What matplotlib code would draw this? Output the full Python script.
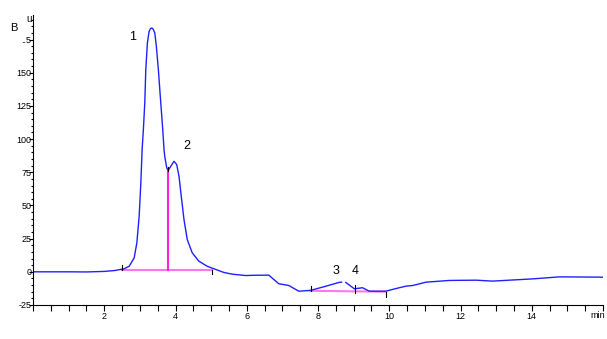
import numpy as np
import matplotlib
matplotlib.use('Agg')
from matplotlib import pyplot as plt
from matplotlib.ticker import MultipleLocator

# chromatogram trace (min, mAU)
trace_t = [0.0, 1.0, 1.5, 2.0, 2.3, 2.56, 2.70, 2.84, 2.915, 2.98, 3.027, 3.063,
           3.10, 3.138, 3.166, 3.211, 3.259, 3.30, 3.334, 3.37, 3.418, 3.463,
           3.519, 3.586, 3.642, 3.678, 3.698, 3.754, 3.80, 3.866, 3.958, 4.034,
           4.098, 4.162, 4.238, 4.33, 4.47, 4.657, 4.89, 5.077, 5.36, 5.6,
           5.97, 6.2, 6.62, 6.76, 6.9, 7.18, 7.46, 7.79, 8.2, 8.59, 8.66]
trace_y = [0.0, 0.0, -0.1, 0.3, 1.0, 2.3, 4.2, 10.5, 21.8, 41.9, 67.0, 92.1,
           108.0, 127.5, 152.3, 172.4, 181.2, 183.3, 183.7, 183.0, 180.0, 169.9,
           152.3, 127.5, 107.2, 92.1, 87.0, 78.3, 76.5, 79.5, 83.3, 80.8,
           72.0, 56.9, 39.4, 24.3, 14.3, 8.0, 4.2, 2.3, -0.5, -1.8,
           -2.8, -2.6, -2.5, -5.8, -9, -10.3, -14.6, -14.0, -11.0, -8.0, -7.8]
trace2_t = [8.78, 9.02, 9.25, 9.44, 9.9, 10.28, 10.47, 10.66, 11.03, 11.69,
            12.44, 12.9, 14.04, 14.78, 15.9, 16.0]
trace2_y = [-8.0, -12.8, -12.0, -14.6, -14.6, -12.0, -10.8, -10.3, -7.8, -6.5,
            -6.3, -7.0, -5.3, -3.8, -4.0, -4.1]

# integration baselines and peak marks
base1_t = [2.5, 5.03]
base1_y = [1.0, 1.0]
drop_t = 3.8
drop_y = 76.5
base2_t = [7.79, 9.9]
base2_y = [-14.3, -15.0]
marks_t = [2.5, 3.8, 5.03, 7.79, 9.05, 9.9]
marks_lo = [1.5, 76.0, -2.0, -14.3, -16.0, -19.0]
marks_hi = [5.5, 79.0, 1.5, -10.5, -10.0, -15.0]

peak_labels = ['1', '2', '3', '4']
peak_lab_t = [2.79, 4.33, 8.5, 9.03]
peak_lab_y = [177, 95, 0.5, 0.5]

ytick_vals = [-25, 0, 25, 50, 75, 100, 125, 150, 175]
ytick_text = ['-25', '0', '25', '50', '75', '100', '125', '150', '..5']
xtick_vals = [2, 4, 6, 8, 10, 12, 14]

plt.rcParams['font.family'] = ['Liberation Sans', 'DejaVu Sans']

fig = plt.figure(figsize=(6.07, 3.39), dpi=100)
ax = fig.add_axes([33/607, 34/339, 570/607, 290/339])

ax.plot(base1_t, base1_y, color='#ff77ee', lw=1.5, zorder=1)
ax.plot([drop_t, drop_t], [base1_y[0], drop_y], color='#ff22dd', lw=1.5, zorder=1)
ax.plot(base2_t, base2_y, color='#ff77ee', lw=1.5, zorder=1)

ax.plot(trace_t, trace_y, color='#2020ff', lw=1.0, zorder=2)
ax.plot(trace2_t, trace2_y, color='#2020ff', lw=1.0, zorder=2)

for t, lo, hi in zip(marks_t, marks_lo, marks_hi):
    ax.plot([t, t], [lo, hi], color='black', lw=0.8, zorder=3)

for s, t, y in zip(peak_labels, peak_lab_t, peak_lab_y):
    ax.text(t, y, s, fontsize=9, ha='center', va='center')

ax.set_xlim(0, 16.0)
ax.set_ylim(-25, 193.5)
ax.set_xticks(xtick_vals)
ax.set_xticklabels([str(v) for v in xtick_vals])
ax.xaxis.set_minor_locator(MultipleLocator(0.5))
ax.set_yticks(ytick_vals)
ax.set_yticklabels(ytick_text)
ax.yaxis.set_minor_locator(MultipleLocator(5))

ax.tick_params(axis='x', which='both', direction='out', length=4, width=0.8,
               labelsize=6.5, pad=1)
ax.tick_params(axis='y', which='major', direction='out', length=3, width=0.8,
               labelsize=6.5, pad=-2)
ax.tick_params(axis='y', which='minor', direction='out', length=1.5, width=0.8)

for side in ['top', 'right']:
    ax.spines[side].set_visible(False)
for side in ['left', 'bottom']:
    ax.spines[side].set_linewidth(0.8)

fig.text(10/607, 1 - 28/339, 'B', fontsize=8, va='center', ha='left')
fig.text(29/607, 1 - 19/339, 'u', fontsize=7, va='center', ha='center')
fig.text(590/607, 1 - 316/339, 'min', fontsize=6.5, va='center', ha='left')

plt.savefig('out.png', dpi=100)
